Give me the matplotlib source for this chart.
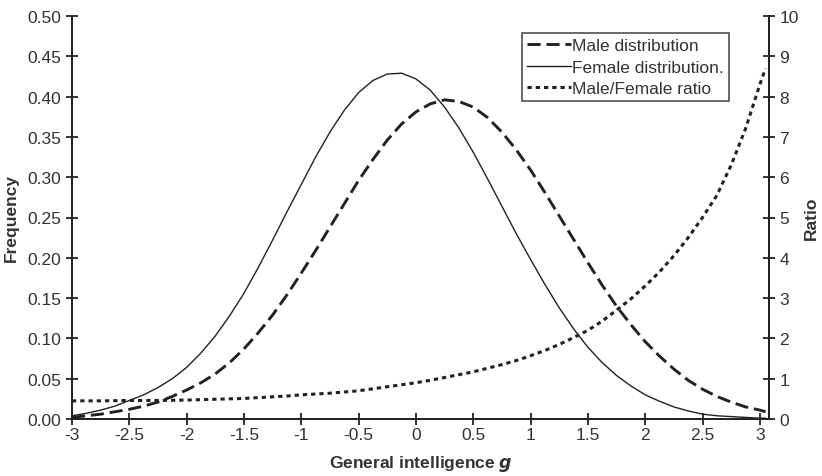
import matplotlib
matplotlib.use("Agg")
import matplotlib.pyplot as plt
import numpy as np

plt.rcParams['font.family'] = ['Liberation Sans', 'DejaVu Sans']

# valeurs (pas de 0.125)
g = [-3, -2.875, -2.75, -2.625, -2.5, -2.375, -2.25, -2.125, -2, -1.875, -1.75, -1.625,
     -1.5, -1.375, -1.25, -1.125, -1, -0.875, -0.75, -0.625, -0.5, -0.375, -0.25, -0.125,
     0, 0.125, 0.25, 0.375, 0.5, 0.625, 0.75, 0.875, 1, 1.125, 1.25, 1.375,
     1.5, 1.625, 1.75, 1.875, 2, 2.125, 2.25, 2.375, 2.5, 2.625, 2.75, 2.875, 3, 3.05]
male = [0.002, 0.004, 0.006, 0.009, 0.012, 0.016, 0.021, 0.028, 0.036, 0.045, 0.056, 0.070,
        0.087, 0.107, 0.129, 0.154, 0.181, 0.209, 0.238, 0.267, 0.296, 0.322, 0.346, 0.366,
        0.381, 0.391, 0.396, 0.394, 0.387, 0.374, 0.356, 0.334, 0.309, 0.281, 0.252, 0.223,
        0.194, 0.166, 0.140, 0.117, 0.096, 0.078, 0.062, 0.048, 0.037, 0.028, 0.021, 0.015,
        0.011, 0.009]
female = [0.004, 0.007, 0.011, 0.016, 0.023, 0.030, 0.039, 0.050, 0.064, 0.082, 0.103, 0.128,
          0.156, 0.188, 0.222, 0.257, 0.291, 0.325, 0.356, 0.383, 0.405, 0.420, 0.428, 0.429,
          0.422, 0.408, 0.387, 0.361, 0.331, 0.298, 0.264, 0.230, 0.198, 0.167, 0.138, 0.112,
          0.089, 0.070, 0.054, 0.041, 0.030, 0.022, 0.015, 0.010, 0.006, 0.004, 0.003, 0.002,
          0.001, 0.001]
ratio = [0.45, 0.45, 0.45, 0.455, 0.46, 0.46, 0.46, 0.465, 0.47, 0.48, 0.49, 0.50,
         0.51, 0.53, 0.55, 0.57, 0.60, 0.62, 0.64, 0.67, 0.70, 0.75, 0.80, 0.85,
         0.90, 0.96, 1.03, 1.10, 1.17, 1.26, 1.35, 1.45, 1.57, 1.70, 1.85, 2.02,
         2.2, 2.43, 2.7, 2.98, 3.3, 3.65, 4.05, 4.5, 5.0, 5.55, 6.3, 7.2, 8.3, 8.7]

xticks = [-3, -2.5, -2, -1.5, -1, -0.5, 0, 0.5, 1, 1.5, 2, 2.5, 3]
xlabels = ["-3", "-2.5", "-2", "-1.5", "-1", "-0.5", "0", "0.5", "1", "1.5", "2", "2.5", "3"]

col = "#222222"
txt = "#333333"

fig = plt.figure(figsize=(8.22, 4.77), dpi=100)
ax = fig.add_axes([72/822, 1-420/477, (769-72)/822, (420-17)/477])
ax2 = ax.twinx()

l1, = ax.plot(g, male, color=col, lw=2.1, dashes=(4.5, 2.0))
l2, = ax.plot(g, female, color=col, lw=1.0)
l3, = ax2.plot(g, ratio, color=col, lw=2.2, dashes=(1.4, 1.3))

ax.set_xlim(-3, 3.08)
ax.set_ylim(0, 0.5)
ax2.set_ylim(0, 10)
ax.set_xticks(xticks)
ax.set_xticklabels(xlabels)
ax.set_yticks(np.arange(0, 0.51, 0.05))
ax.set_yticklabels(["%.2f" % v for v in np.arange(0, 0.51, 0.05)])
ax2.set_yticks(range(0, 11))

for a in (ax, ax2):
    a.spines['top'].set_visible(False)
    for s in a.spines.values():
        s.set_linewidth(1.3)
        s.set_color(col)
    a.tick_params(direction='inout', length=8, width=1.3, colors=col,
                  labelsize=12.5, labelcolor=txt)
ax.tick_params(axis='x', pad=2)

ax.set_ylabel("Frequency", fontsize=12.5, fontweight='bold', color=txt, labelpad=6)
ax2.set_ylabel("Ratio", fontsize=12.5, fontweight='bold', color=txt, labelpad=4)
ax.set_xlabel("General intelligence $\\mathbfit{g}$", fontsize=12.5, fontweight='bold',
              color=txt, labelpad=8)

leg = fig.legend([l1, l2, l3],
                 ["Male distribution", "Female distribution.", "Male/Female ratio"],
                 loc='upper left', bbox_to_anchor=(522/822, 1-34/477),
                 fontsize=12.5, frameon=True, fancybox=False, handlelength=2.5,
                 handletextpad=0.1, borderpad=0.3, labelspacing=0.35,
                 borderaxespad=0)
leg.get_frame().set_edgecolor(col)
leg.get_frame().set_linewidth(1.2)
for t in leg.get_texts():
    t.set_color(txt)

fig.savefig("out.png", dpi=100)
